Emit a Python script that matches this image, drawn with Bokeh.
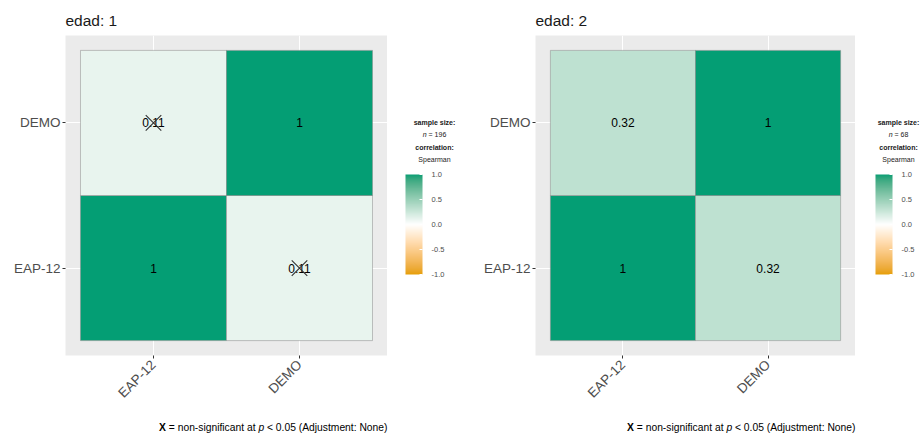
import math
from bokeh.plotting import figure
from bokeh.models import (FactorRange, Range1d, ColumnDataSource, LinearColorMapper, ColorBar,
                          FixedTicker, PrintfTickFormatter)
from bokeh.layouts import row, column
from bokeh.core.properties import value
from bokeh.embed import file_html
from bokeh.resources import INLINE

# ---------------- data ----------------
variables = ["EAP-12", "DEMO"]
groups = ["1", "2"]
group_r = [0.11, 0.32]          # off-diagonal Spearman correlation per group
group_n = [196, 68]             # sample size per group
group_significant = [False, True]
scale_colors = ["#E69F00", "#FFFFFF", "#009E73"]   # low, mid, high
colorbar_ticks = [-1.0, -0.5, 0.0, 0.5, 1.0]
caption_parts = ["X", "= non-significant at", "p", "< 0.05 (Adjustment: None)"]
caption_styles = ["bold", "normal", "italic", "normal"]
caption_ems = [0.667, 8.421, 0.556, 11.700]   # Arial advance widths (em)
SPACE_EM = 0.278

FONT = "Liberation Sans"

# ---------------- palette (Lab interpolation like ggplot) ----------------
XN, YN, ZN = 0.95047, 1.0, 1.08883


def hex_rgb(h):
    h = h.lstrip("#")
    return [int(h[i:i + 2], 16) for i in (0, 2, 4)]


def to_lin(c):
    c = c / 255.0
    return c / 12.92 if c <= 0.04045 else ((c + 0.055) / 1.055) ** 2.4


def from_lin(c):
    c = max(0.0, min(1.0, c))
    v = 12.92 * c if c <= 0.0031308 else 1.055 * c ** (1 / 2.4) - 0.055
    return int(round(max(0, min(1, v)) * 255))


def rgb_lab(rgb):
    r, g, b = [to_lin(c) for c in rgb]
    X = 0.4124 * r + 0.3576 * g + 0.1805 * b
    Y = 0.2126 * r + 0.7152 * g + 0.0722 * b
    Z = 0.0193 * r + 0.1192 * g + 0.9505 * b
    f = lambda t: t ** (1 / 3) if t > 0.008856 else 7.787 * t + 16 / 116
    fx, fy, fz = f(X / XN), f(Y / YN), f(Z / ZN)
    return (116 * fy - 16, 500 * (fx - fy), 200 * (fy - fz))


def lab_hex(lab):
    L, a, b = lab
    fy = (L + 16) / 116
    fx = fy + a / 500
    fz = fy - b / 200
    finv = lambda t: t ** 3 if t ** 3 > 0.008856 else (t - 16 / 116) / 7.787
    X, Y, Z = finv(fx) * XN, finv(fy) * YN, finv(fz) * ZN
    r = 3.2406 * X - 1.5372 * Y - 0.4986 * Z
    g = -0.9689 * X + 1.8758 * Y + 0.0415 * Z
    bb = 0.0557 * X - 0.2040 * Y + 1.0570 * Z
    return "#%02x%02x%02x" % (from_lin(r), from_lin(g), from_lin(bb))


labs = [rgb_lab(hex_rgb(c)) for c in scale_colors]
palette = []
N = 256
for i in range(N):
    v = -1 + 2 * (i + 0.5) / N
    if v < 0:
        a, b, t = labs[1], labs[0], -v
    else:
        a, b, t = labs[1], labs[2], v
    palette.append(lab_hex(tuple(a[k] + (b[k] - a[k]) * t for k in range(3))))

mapper = LinearColorMapper(palette=palette, low=-1, high=1)

# ---------------- layout constants ----------------
HEAT_H = 412
CAP_H = 21
BORDER_TOP = 35
FRAME_H = 320
BORDER_BOTTOM = HEAT_H - BORDER_TOP - FRAME_H
BORDER_LEFT = 65
PAD = 0.1027   # applied on each side of the factor range


def r_label(v):
    return "%g" % round(v, 2)


def blank(w, h, top=0, bottom=0):
    f = figure(width=w, height=h, x_range=Range1d(0, w), y_range=Range1d(h - bottom, top),
               output_backend="svg", toolbar_location=None,
               x_axis_location=None, y_axis_location=None,
               min_border_left=0, min_border_right=0, min_border_top=top,
               min_border_bottom=bottom)
    f.grid.visible = False
    f.outline_line_color = None
    f.background_fill_color = "white"
    f.border_fill_color = "white"
    return f


def heat_panel(gi, frame_w):
    xr = FactorRange(factors=variables, range_padding=PAD, range_padding_units="absolute")
    yr = FactorRange(factors=variables, range_padding=PAD, range_padding_units="absolute")
    p = figure(width=BORDER_LEFT + frame_w, height=HEAT_H, x_range=xr, y_range=yr,
               output_backend="svg", toolbar_location=None,
               min_border_left=BORDER_LEFT, min_border_right=0,
               min_border_top=BORDER_TOP, min_border_bottom=BORDER_BOTTOM,
               title="edad: " + groups[gi])
    p.background_fill_color = "#EBEBEB"
    p.border_fill_color = "white"
    p.outline_line_color = None
    p.grid.grid_line_color = "white"
    p.grid.grid_line_width = 1

    p.title.text_font = FONT
    p.title.text_font_size = "15.5px"
    p.title.text_font_style = "normal"
    p.title.text_color = "#1a1a1a"
    p.title.align = "left"
    p.title.offset = 0
    p.title.standoff = 13

    p.axis.axis_line_color = None
    p.axis.major_tick_line_color = "#333333"
    p.axis.major_tick_out = 3
    p.axis.major_tick_in = 0
    p.axis.minor_tick_line_color = None
    p.axis.major_label_text_font = FONT
    p.axis.major_label_text_font_size = "13.5px"
    p.axis.major_label_text_color = "#4d4d4d"
    p.yaxis.major_label_standoff = 2
    p.xaxis.major_label_standoff = 4
    p.xaxis.major_label_orientation = math.pi / 4

    xs, ys, rs, labels = [], [], [], []
    mx, my = [], []
    for yi, yv in enumerate(variables):
        for xi, xv in enumerate(variables):
            r = 1.0 if xi == yi else group_r[gi]
            xs.append(xv)
            ys.append(yv)
            rs.append(r)
            labels.append(r_label(r))
            if xi != yi and not group_significant[gi]:
                mx.append(xv)
                my.append(yv)
    src = ColumnDataSource(dict(x=xs, y=ys, r=rs, label=labels))
    p.rect(x="x", y="y", width=1, height=1, source=src,
           fill_color={"field": "r", "transform": mapper},
           line_color="#8a8a8a", line_alpha=0.5, line_width=1)
    p.text(x="x", y="y", text="label", source=src, text_align="center",
           text_baseline="middle", text_font=value(FONT), text_font_size="12px",
           text_color="black")
    if mx:
        p.scatter(x=mx, y=my, marker="x", size=22, line_color="#333333", line_width=1.1)
    return p


def legend_panel(gi, w, cx, bar_x):
    # frame spans screen rows 35..355; data y == screen y
    f = blank(w, HEAT_H, top=BORDER_TOP, bottom=BORDER_BOTTOM)
    cb = ColorBar(color_mapper=mapper, ticker=FixedTicker(ticks=colorbar_ticks),
                  formatter=PrintfTickFormatter(format="%.1f"),
                  width=17, height=100, location=(bar_x, (HEAT_H - BORDER_BOTTOM) - 274),
                  padding=0, margin=0, orientation="vertical",
                  major_label_text_font=FONT, major_label_text_font_size="7.5px",
                  major_label_text_color="#4d4d4d",
                  major_tick_line_color="white", major_tick_in=3, major_tick_out=0,
                  bar_line_color=None, border_line_color=None,
                  background_fill_color=None, background_fill_alpha=0,
                  label_standoff=9)
    f.add_layout(cb)

    fs = 7
    kw = dict(text_font=value(FONT), text_font_size="%dpx" % fs, text_baseline="middle",
              text_color="#1a1a1a")
    f.text(x=[cx], y=[122], text=["sample size:"], text_align="center",
           text_font_style="bold", **kw)
    ntxt = "= %d" % group_n[gi]
    wn = (0.556 + SPACE_EM) * fs
    wr = (0.584 + SPACE_EM + 0.556 * len(str(group_n[gi]))) * fs
    left = cx - (wn + wr) / 2
    f.text(x=[left], y=[134], text=["n"], text_align="left", text_font_style="italic", **kw)
    f.text(x=[left + wn], y=[134], text=[ntxt], text_align="left", **kw)
    f.text(x=[cx], y=[147], text=["correlation:"], text_align="center",
           text_font_style="bold", **kw)
    f.text(x=[cx], y=[159], text=["Spearman"], text_align="center", **kw)
    return f


def caption_panel(w, right_x):
    f = blank(w, CAP_H)
    fs = 10.3
    widths = [e * fs for e in caption_ems]
    sp = SPACE_EM * fs
    total = sum(widths) + sp * (len(widths) - 1)
    xpos = right_x - total
    for k in range(len(caption_parts)):
        f.text(x=[xpos], y=[15], text=[caption_parts[k]],
               text_font=value(FONT), text_font_size="%.1fpx" % fs,
               text_font_style=caption_styles[k], text_align="left",
               text_baseline="middle", text_color="black")
        xpos += widths[k] + sp
    return f


left = column(row(heat_panel(0, 322), legend_panel(0, 83, 47, 18)),
              caption_panel(470, 387))
right = column(row(heat_panel(1, 320), legend_panel(1, 66, 43, 20)),
               caption_panel(451, 385))
layout = row(left, right)

open("out.html", "w").write(file_html(layout, INLINE))
